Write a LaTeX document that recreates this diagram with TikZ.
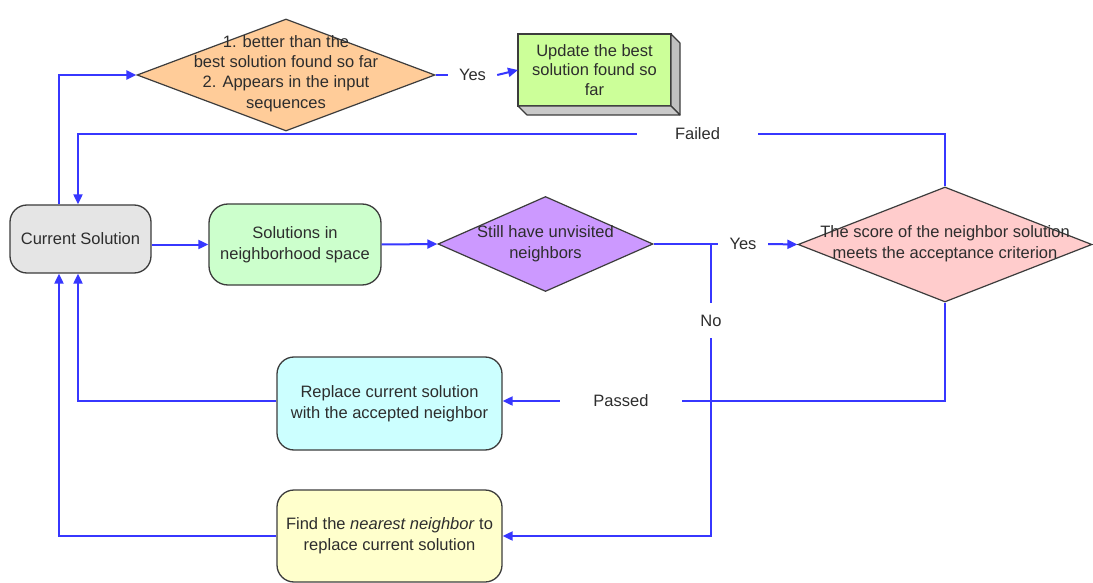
\documentclass[tikz,border=0pt]{standalone}
\usepackage{fontspec}
\setmainfont{Liberation Sans}
\usetikzlibrary{shapes.geometric,arrows.meta}

\definecolor{flowblue}{RGB}{55,55,255}
\definecolor{edgegrey}{RGB}{60,60,60}
\definecolor{inkgrey}{RGB}{45,45,45}
\definecolor{curfill}{RGB}{229,229,229}
\definecolor{nbhfill}{RGB}{204,255,204}
\definecolor{unvfill}{RGB}{204,153,255}
\definecolor{accfill}{RGB}{255,204,204}
\definecolor{bestfill}{RGB}{255,204,153}
\definecolor{updfill}{RGB}{204,255,153}
\definecolor{repfill}{RGB}{204,255,255}
\definecolor{findfill}{RGB}{255,255,204}
\definecolor{sidefill}{RGB}{192,192,192}

\newcommand{\flowfont}{\fontsize{16.5}{21}\selectfont}

\begin{document}
\begin{tikzpicture}[x=1pt,y=-1pt,
  box/.style={rectangle, rounded corners=17pt, draw=edgegrey, line width=1.3pt,
    align=center, font=\flowfont, text=inkgrey, inner sep=0pt},
  dia/.style={diamond, draw=edgegrey, line width=1.2pt, inner sep=0pt},
  txt/.style={align=center, font=\flowfont, text=inkgrey, inner sep=0pt},
  lbl/.style={font=\flowfont, text=inkgrey, inner sep=0pt},
  flow/.style={draw=flowblue, line width=2pt},
  arr/.style={flow, -{Triangle[length=10pt,width=9pt]}},
]
\useasboundingbox (0,0) rectangle (1093,583);
\fill[white] (0,0) rectangle (1093,583);

% x positions of the two vertical rails next to the current solution
\coordinate (cL) at (59,0);
\coordinate (cR) at (78,0);

% main nodes
\node[box, fill=curfill, minimum width=141pt, minimum height=68pt] (cur) at (80.5,239) {Current Solution};
\node[box, fill=nbhfill, minimum width=172pt, minimum height=81pt, rounded corners=19pt] (nbh) at (295,244.5) {Solutions in\\neighborhood space};

\node[dia, fill=unvfill, minimum width=215pt, minimum height=95pt] (unv) at (545.5,244) {};
\node[txt] (unvt) at (545.5,244) {Still have unvisited\\neighbors};

\node[dia, fill=accfill, minimum width=294pt, minimum height=115pt] (acc) at (945,244.5) {};
\node[txt] (acct) at (945,244) {The score of the neighbor solution\\meets the acceptance criterion};

\node[dia, fill=bestfill, minimum width=298pt, minimum height=112pt] (best) at (286,75) {};
\node[txt, font=\fontsize{16.5}{20.3}\selectfont] (bestt) at (286,73.5) {1. better than the\\best solution found so far\\2. Appears in the input\\sequences};

% raised box for the best-solution update
\node[rectangle, draw=edgegrey, line width=1.3pt, fill=updfill, outer sep=0pt,
  minimum width=153pt, minimum height=72pt, align=center, font=\fontsize{16.5}{19.5}\selectfont,
  text=inkgrey, inner sep=0pt] (upd) at (594.5,70) {Update the best\\solution found so\\far};
\filldraw[fill=sidefill, draw=edgegrey, line width=1.1pt, line join=round]
  (upd.north east) -- ([shift={(9,9)}]upd.north east) -- ([shift={(9,9)}]upd.south east) -- (upd.south east) -- cycle;
\filldraw[fill=sidefill!85!white, draw=edgegrey, line width=1.1pt, line join=round]
  (upd.south west) -- (upd.south east) -- ([shift={(9,9)}]upd.south east) -- ([shift={(9,9)}]upd.south west) -- cycle;

\node[box, fill=repfill, minimum width=225pt, minimum height=93pt] (rep) at (389.5,403.5) {Replace current solution\\with the accepted neighbor};
\node[box, fill=findfill, minimum width=225pt, minimum height=92pt] (find) at (389.5,536) {Find the \textit{nearest neighbor} to\\replace current solution};

% connector labels
\node[lbl, minimum width=49pt] (yes1) at (472.5,75) {Yes};
\node[lbl, minimum width=50pt] (yes2) at (743,244) {Yes};
\node[lbl, minimum width=121pt] (failed) at (697.5,134) {Failed};
\node[lbl, minimum width=122pt] (passed) at (621,401) {Passed};
\node[lbl, minimum height=35pt] (no) at (711,320.5) {No};
\coordinate (jn) at (711,244);

% connectors
\draw[arr] (cur.east |- nbh.west) -- (nbh.west);
\draw[arr] (nbh.west -| nbh.east) -- (unv.west);
\draw[flow] (unv.east) -- (yes2.west);
\draw[arr] (yes2.east) -- (acc.west);
\draw[flow] (jn) -- (no.north);
\draw[arr] (no.south) |- (find.east);
\draw[arr] (cur.north -| cL) |- (best.west);
\draw[flow] (best.east) -- (yes1.west);
\draw[arr] (yes1.east) -- (upd.west);
\draw[flow] (acc.north) |- (failed.east);
\draw[arr] (failed.west) -| (cur.north -| cR);
\draw[flow] (acc.south) |- (passed.east);
\draw[arr] (passed.west) -- (rep.east |- passed.west);
\draw[arr] (rep.west |- passed.west) -| (cur.south -| cR);
\draw[arr] (find.west) -| (cur.south -| cL);
\end{tikzpicture}
\end{document}
